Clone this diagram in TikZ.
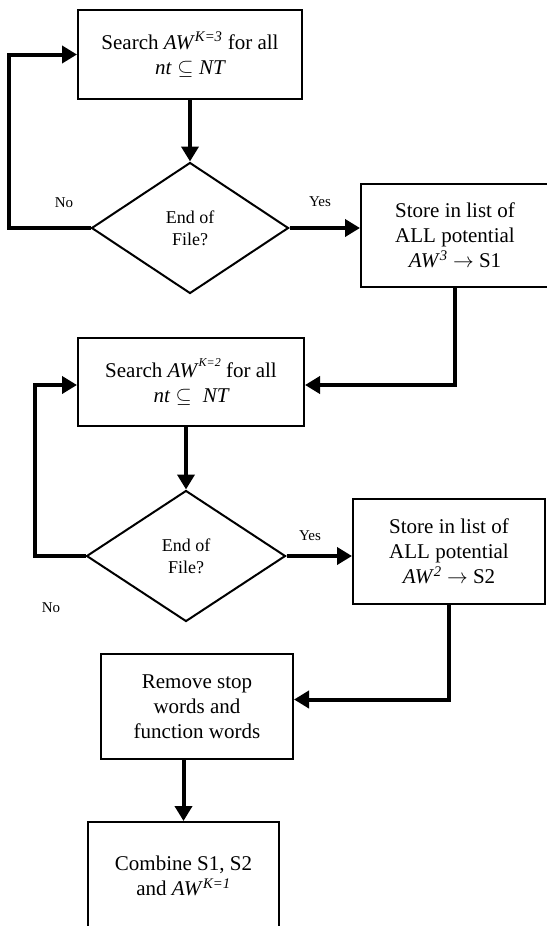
\documentclass[tikz,border=0pt]{standalone}
\usepackage{fontspec}
\setmainfont{Liberation Serif}
\usetikzlibrary{shapes.geometric,arrows.meta,calc}
\newcommand{\AWsup}[1]{\textit{AW}\textsuperscript{\textit{#1}}}
\newcommand{\AWhigh}[1]{\textit{AW}\raisebox{1.1ex}{\fontsize{12}{12}\selectfont\textit{#1}}}
\begin{document}
\begin{tikzpicture}[x=1pt,y=-1pt,
  boxnode/.style={draw,line width=2pt,align=center,inner sep=0pt,
    font=\fontsize{21}{25}\selectfont},
  decision/.style={draw,diamond,line width=2pt,align=center,inner sep=0pt,
    font=\fontsize{18}{22}\selectfont},
  arr/.style={line width=4pt,-{Triangle[length=15pt,width=17pt]}},
  lbl/.style={font=\fontsize{15}{17}\selectfont,inner sep=0pt}]
\useasboundingbox (0,0) rectangle (546,926);
\node[boxnode,minimum width=224pt,minimum height=89pt] (b1) at (190,54.5)
  {Search \AWsup{K=3} for all\\ $\mathit{nt}\subseteq \mathit{NT}$};
\node[decision,minimum width=197pt,minimum height=131pt] (d1) at (190,228)
  {End of\\File?};
\node[boxnode,minimum width=188pt,minimum height=103pt] (s1) at (455,235.5)
  {Store in list of\\ALL potential\\\AWsup{3} $\rightarrow$ S1};
\node[boxnode,minimum width=226pt,minimum height=88pt] (b2) at (191,382)
  {Search \AWhigh{K=2} for all\\ $\mathit{nt}\subseteq\ \mathit{NT}$};
\node[decision,minimum width=199pt,minimum height=131pt] (d2) at (186,556)
  {End of\\File?};
\node[boxnode,minimum width=192pt,minimum height=105pt] (s2) at (449,551.5)
  {Store in list of\\ALL potential\\\AWsup{2} $\rightarrow$ S2};
\node[boxnode,minimum width=192pt,minimum height=105pt] (b3) at (197,706.5)
  {Remove stop\\words and\\function words};
\node[boxnode,minimum width=191pt,minimum height=108pt] (b4) at (183.5,876)
  {Combine S1, S2\\and \AWsup{K=1}};
\node[lbl] (no1) at (64,203) {No};
\node[lbl] (yes1) at (320,202) {Yes};
\node[lbl] (yes2) at (310,536) {Yes};
\node[lbl] (no2) at (51,608) {No};
\draw[arr] (b1.south) -- (d1.north);
\draw[arr] (d1.west) -- ++(-82,0) |- (b1.west);
\draw[arr] (d1.east) -- (d1.east -| s1.west);
\draw[arr] (s1.south) |- ([yshift=-3pt]b2.east);
\draw[arr] (d2.north |- b2.south) -- (d2.north);
\draw[arr] (d2.west) -- ++(-51,0) |- ([yshift=-3pt]b2.west);
\draw[arr] (d2.east) -- (d2.east -| s2.west);
\draw[arr] (s2.south) |- ([yshift=7pt]b3.east);
\draw[arr] (b4.north |- b3.south) -- (b4.north);
\end{tikzpicture}
\end{document}
